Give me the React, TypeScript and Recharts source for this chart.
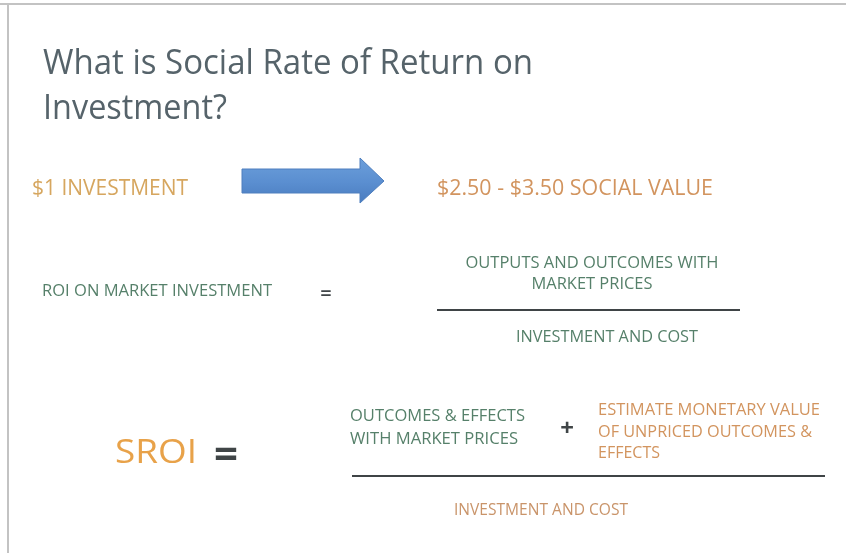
import { Surface, Polygon, Rectangle } from "recharts";

const W = 846;
const H = 553;

// slide texts
const TITLE_LINES = ["What is Social Rate of Return on", "Investment?"];
const ARROW_LEFT = "$1 INVESTMENT";
const ARROW_RIGHT = "$2.50 - $3.50 SOCIAL VALUE";
const ROI_LABEL = "ROI ON MARKET INVESTMENT";
const ROI_NUMERATOR = ["OUTPUTS AND OUTCOMES WITH", "MARKET PRICES"];
const ROI_DENOMINATOR = "INVESTMENT AND COST";
const SROI_LABEL = "SROI";
const SROI_NUM_LEFT = ["OUTCOMES & EFFECTS", "WITH MARKET PRICES"];
const SROI_NUM_RIGHT = ["ESTIMATE MONETARY VALUE", "OF UNPRICED OUTCOMES &", "EFFECTS"];
const SROI_DENOMINATOR = "INVESTMENT AND COST";

const FONT = "'Open Sans', 'Noto Sans', sans-serif";
const TITLE_COLOR = "#56646b";
const GOLD = "#d6a65e";
const GREEN = "#56806a";
const ORANGE = "#d2945e";
const DARK = "#3f4446";

type TProps = {
  x: number;
  y: number;
  len?: number;
  size: number;
  color: string;
  anchor?: "start" | "middle" | "end";
  weight?: number;
  children: string;
};

function T({ x, y, len, size, color, anchor = "start", weight = 500, children }: TProps) {
  return (
    <text
      x={x}
      y={y}
      fontSize={size}
      fill={color}
      fontFamily={FONT}
      fontWeight={weight}
      textAnchor={anchor}
      textLength={len}
      lengthAdjust="spacingAndGlyphs"
      filter="url(#soft)"
    >
      {children}
    </text>
  );
}

export default function App() {
  return (
    <div style={{ position: "fixed", left: 0, top: 0, width: W, height: H, background: "#fff" }}>
      <Surface width={W} height={H} viewBox={{ x: 0, y: 0, width: W, height: H }}>
        <defs>
          <filter id="soft" x="-5%" y="-20%" width="110%" height="140%">
            <feGaussianBlur stdDeviation="0.5" />
          </filter>
          <linearGradient id="arrowFill" x1="0" y1="0" x2="0" y2="1">
            <stop offset="0%" stopColor="#6c9fdb" />
            <stop offset="55%" stopColor="#5a8ed0" />
            <stop offset="100%" stopColor="#4a7cbf" />
          </linearGradient>
        </defs>

        {/* slide frame */}
        <Rectangle x={0} y={3} width={W} height={2} fill="#c3c3c3" />
        <Rectangle x={7} y={3} width={2} height={H - 3} fill="#c3c3c3" />

        {/* title */}
        <T x={43} y={74} len={490} size={34} color={TITLE_COLOR} weight={400}>{TITLE_LINES[0]}</T>
        <T x={43} y={119} len={184} size={34} color={TITLE_COLOR} weight={400}>{TITLE_LINES[1]}</T>

        {/* $1 -> social value */}
        <T x={32} y={195} len={156} size={21} color={GOLD}>{ARROW_LEFT}</T>
        <Polygon
          points={[
            { x: 242, y: 169 },
            { x: 360, y: 169 },
            { x: 360, y: 158 },
            { x: 384, y: 181 },
            { x: 360, y: 203 },
            { x: 360, y: 193 },
            { x: 242, y: 193 },
          ]}
          fill="url(#arrowFill)"
          stroke="#4f7fbe"
          strokeWidth={1}
        />
        <T x={437} y={195} len={276} size={21} color={ORANGE}>{ARROW_RIGHT}</T>

        {/* ROI fraction */}
        <T x={42} y={296} len={230} size={17} color={GREEN}>{ROI_LABEL}</T>
        <T x={326} y={300} size={20} color={DARK} anchor="middle" weight={600}>=</T>
        <T x={592} y={268} len={253} size={16} color={GREEN} anchor="middle">{ROI_NUMERATOR[0]}</T>
        <T x={592} y={289} len={121} size={16} color={GREEN} anchor="middle">{ROI_NUMERATOR[1]}</T>
        <Rectangle x={437} y={309} width={303} height={2} fill={DARK} />
        <T x={607} y={342} len={182} size={17} color={GREEN} anchor="middle">{ROI_DENOMINATOR}</T>

        {/* SROI fraction */}
        <T x={115} y={463} len={82} size={33} color="#e8a24a" weight={400}>{SROI_LABEL}</T>
        <T x={226} y={468} size={42} color={DARK} anchor="middle" weight={700}>=</T>
        <T x={350} y={421} len={175} size={17} color={GREEN}>{SROI_NUM_LEFT[0]}</T>
        <T x={350} y={444} len={168} size={17} color={GREEN}>{SROI_NUM_LEFT[1]}</T>
        <T x={567} y={436} size={24} color={DARK} anchor="middle" weight={700}>+</T>
        <T x={598} y={415} len={222} size={17} color={ORANGE}>{SROI_NUM_RIGHT[0]}</T>
        <T x={598} y={437} len={214} size={17} color={ORANGE}>{SROI_NUM_RIGHT[1]}</T>
        <T x={598} y={458} len={62} size={17} color={ORANGE}>{SROI_NUM_RIGHT[2]}</T>
        <Rectangle x={352} y={475} width={473} height={2} fill={DARK} />
        <T x={541} y={515} len={174} size={17} color="#c9946a" anchor="middle">{SROI_DENOMINATOR}</T>
      </Surface>
    </div>
  );
}
